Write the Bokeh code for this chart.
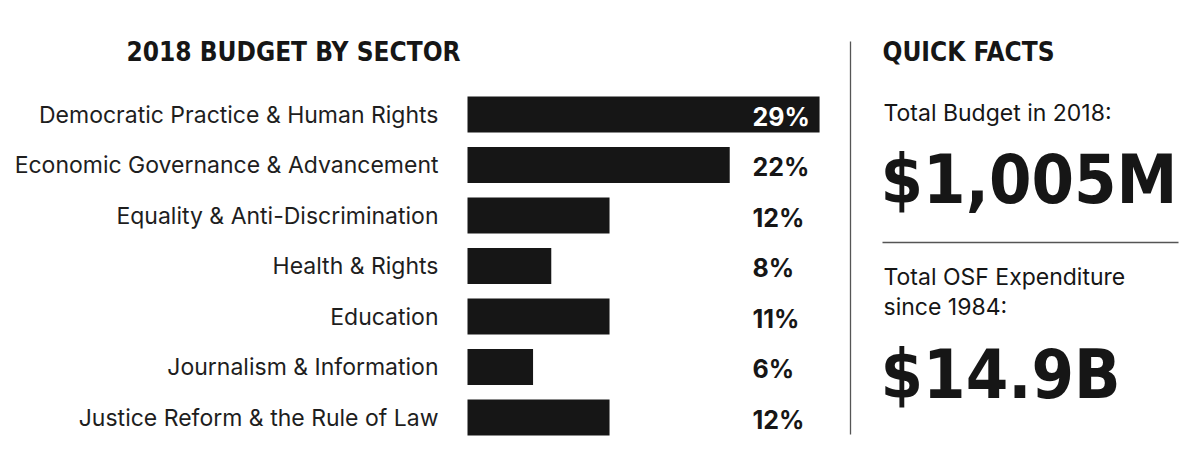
from bokeh.plotting import figure
from bokeh.models import Range1d, ColumnDataSource
from bokeh.core.properties import value
from bokeh.embed import file_html
from bokeh.resources import INLINE
import numpy as np

# ---- data ----
sectors = [
    "Democratic Practice & Human Rights",
    "Economic Governance & Advancement",
    "Equality & Anti-Discrimination",
    "Health & Rights",
    "Education",
    "Journalism & Information",
    "Justice Reform & the Rule of Law",
]
bar_values = [29.0, 21.6, 11.7, 6.9, 11.7, 5.4, 11.7]   # bar lengths
pct_labels = ["29%", "22%", "12%", "8%", "11%", "6%", "12%"]
title_left = "2018 BUDGET BY SECTOR"
title_right = "QUICK FACTS"
fact1_label = "Total Budget in 2018:"
fact1_value = "$1,005M"
fact2_label = ["Total OSF Expenditure", "since 1984:"]
fact2_value = "$14.9B"

# ---- layout constants ----
W, H = 1184, 459
K = 12.14          # px per percent
X0 = 467           # canvas x of the bar baseline
Y0 = 114           # canvas y of first bar centre
PITCH = 50.5       # px between bars

INK = "#161616"
COND = "DejaVu Sans Condensed"
SANS = "Inter"

p = figure(width=W, height=H, output_backend="svg", toolbar_location=None,
           x_range=Range1d(-X0 / K, (W - X0) / K),
           y_range=Range1d((H - Y0) / PITCH, -Y0 / PITCH),
           min_border=0, background_fill_color="white", border_fill_color="white")
p.axis.visible = False
p.grid.visible = False
p.outline_line_color = None

idx = np.arange(len(sectors))
src = ColumnDataSource(dict(y=idx, v=bar_values, name=sectors, pct=pct_labels,
                            zero=[0] * len(sectors),
                            pcol=["white"] + [INK] * (len(sectors) - 1)))

p.hbar(y="y", left=0, right="v", height=36 / PITCH, source=src,
       fill_color=INK, line_color=None)

p.text(x="zero", y="y", text="name", source=src, x_offset=-29, y_offset=0,
       text_align="right", text_baseline="middle",
       text_font=value(SANS), text_font_size="23px", text_color="#1e1e1e")

p.text(x="zero", y="y", text="pct", source=src, x_offset=285, y_offset=2,
       text_align="left", text_baseline="middle",
       text_font=value(SANS), text_font_style="bold", text_font_size="25px",
       text_color="pcol")


def px_x(x):
    return (x - X0) / K


def px_y(y):
    return (y - Y0) / PITCH


def lab(txt, x, y_mid, size, font, style="normal", align="left"):
    # x, y_mid: page pixel position of the text's left edge and cap middle
    p.text(x=[px_x(x)], y=[px_y(y_mid)], text=[txt], text_font=value(font),
           text_font_size=size, text_font_style=style, text_color=INK,
           text_align=align, text_baseline="middle")


lab(title_left, 293, 51, "26px", COND, "bold", "center")
lab(title_right, 882, 51, "26px", COND, "bold")
lab(fact1_label, 883, 112, "23px", SANS)
lab(fact1_value, 880, 179, "68px", COND, "bold")
lab(fact2_label[0], 883, 276, "23px", SANS)
lab(fact2_label[1], 883, 306, "23px", SANS)
lab(fact2_value, 880, 374, "68px", COND, "bold")

# separators
p.segment(x0=[px_x(850), px_x(882)], x1=[px_x(850), px_x(1178)],
          y0=[px_y(41), px_y(242)], y1=[px_y(434), px_y(242)],
          line_color="#555555", line_width=1.3)

open("out.html", "w").write(file_html(p, INLINE))
